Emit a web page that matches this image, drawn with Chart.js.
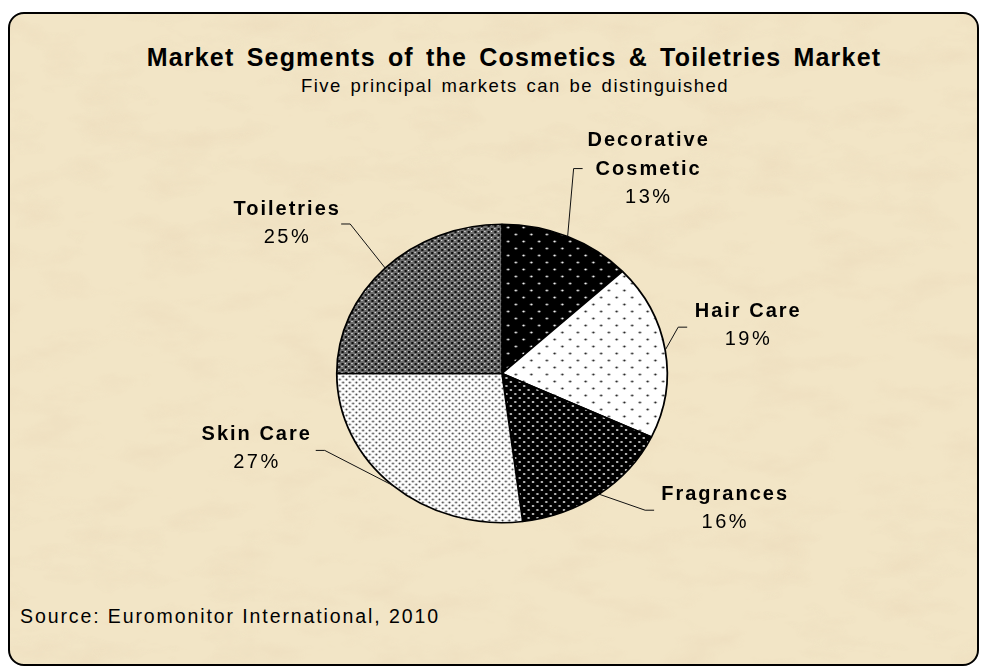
<!DOCTYPE html>
<html>
<head>
<meta charset="utf-8">
<script src="https://cdn.jsdelivr.net/npm/chart.js@4.4.1/dist/chart.umd.min.js"></script>
<style>
    html, body { margin: 0; padding: 0; background: #fff; }
    #wrap { position: absolute; left: 0; top: 0; width: 983px; height: 669px; overflow: hidden; }
    #frame {
        position: absolute; left: 8px; top: 12px; width: 971px; height: 654px;
        box-sizing: border-box; border: 2px solid #000; border-radius: 16px;
        background-color: #f2e5c6;
        overflow: hidden;
    }
    #paper { position: absolute; left: 0; top: 0; width: 100%; height: 100%; }
    #chart_box { position: absolute; left: 0; top: 0; width: 983px; height: 669px; }
    .txt { position: absolute; font-family: Arial, "Liberation Sans", sans-serif; color: #000; white-space: nowrap; line-height: 1; }
    #title { left: 514px; top: 44.5px; transform: translateX(-50%); font-size: 25px; font-weight: bold; letter-spacing: 1.2px; word-spacing: 4px; }
    #subtitle { left: 515px; top: 77px; transform: translateX(-50%); font-size: 18.5px; letter-spacing: 1.5px; word-spacing: 2px; }
    #source { left: 20px; top: 607px; font-size: 19.5px; letter-spacing: 1.9px; }
</style>
</head>
<body>
<div id="wrap">
    <div id="frame">
        <svg id="paper" xmlns="http://www.w3.org/2000/svg">
            <filter id="mottle" x="0" y="0" width="100%" height="100%">
                <feTurbulence type="fractalNoise" baseFrequency="0.015 0.035" numOctaves="4" seed="7"/>
                <feColorMatrix type="matrix" values="0 0 0 0 0.82  0 0 0 0 0.68  0 0 0 0 0.48  0 0 0 -1.6 0.85"/>
            </filter>
            <rect width="100%" height="100%" filter="url(#mottle)" opacity="0.6"/>
        </svg>
    </div>
    <div class="txt" id="title">Market Segments of the Cosmetics &amp; Toiletries Market</div>
    <div class="txt" id="subtitle">Five principal markets can be distinguished</div>
    <div class="txt" id="source">Source: Euromonitor International, 2010</div>
    <div id="chart_box"><canvas id="pie_chart"></canvas></div>
</div>
<script>
// data
const segments = [['Decorative', 'Cosmetic'], ['Hair Care'], ['Fragrances'], ['Skin Care'], ['Toiletries']];
const shares = [13, 19, 16, 27, 25];

// label placement (relative to the slice edge at its middle angle)
const labelOffsets = [[80, -96], [82, -39], [125, 0], [-137, -51], [-99, -59]];
const elbowOffsets = [[6, -68], [13, -23], [46, 16], [-68, -35], [-35, -44]];

const stretchX = 165 / 149;   // the pie is drawn as an ellipse
const font = 'Arial, "Liberation Sans", sans-serif';

function dotPattern(bg, fg, size, r) {
    const c = document.createElement('canvas');
    c.width = size; c.height = size;
    const g = c.getContext('2d');
    g.fillStyle = bg;
    g.fillRect(0, 0, size, size);
    g.fillStyle = fg;
    [[size / 4, size / 4], [size * 3 / 4, size * 3 / 4]].forEach(p => {
        g.beginPath();
        g.arc(p[0], p[1], r, 0, Math.PI * 2);
        g.fill();
    });
    return g.createPattern(c, 'repeat');
}

function crossPattern() {
    const c = document.createElement('canvas');
    c.width = 6; c.height = 6;
    const g = c.getContext('2d');
    g.fillStyle = '#6c6c6c';
    g.fillRect(0, 0, 6, 6);
    g.fillStyle = '#111';
    g.fillRect(0, 0, 2, 2);
    g.fillRect(3, 3, 2, 2);
    g.fillStyle = '#f4f4f4';
    g.fillRect(3, 0, 1, 1);
    g.fillRect(0, 3, 1, 1);
    return g.createPattern(c, 'repeat');
}

const fills = [
    dotPattern('#000', '#fff', 14, 1.1),
    dotPattern('#fff', '#222', 14, 1.1),
    dotPattern('#000', '#ddd', 8, 1.1),
    dotPattern('#fff', '#444', 6, 1.0),
    crossPattern(),
];

const ellipse = {
    id: 'ellipse',
    beforeDatasetsDraw(chart) {
        const arc = chart.getDatasetMeta(0).data[0];
        const ctx = chart.ctx;
        ctx.save();
        ctx.translate(arc.x, arc.y);
        ctx.scale(stretchX, 1);
        ctx.translate(-arc.x, -arc.y);
    },
    afterDatasetsDraw(chart) {
        chart.ctx.restore();
    }
};

const sliceLabels = {
    id: 'sliceLabels',
    afterDraw(chart) {
        const ctx = chart.ctx;
        const meta = chart.getDatasetMeta(0);
        meta.data.forEach((arc, i) => {
            const a = (arc.startAngle + arc.endAngle) / 2;
            const ex = arc.x + arc.outerRadius * stretchX * Math.cos(a);
            const ey = arc.y + arc.outerRadius * Math.sin(a);
            const bx = ex + elbowOffsets[i][0];
            const by = ey + elbowOffsets[i][1];
            const side = labelOffsets[i][0] > elbowOffsets[i][0] ? 1 : -1;

            ctx.save();
            ctx.strokeStyle = '#111';
            ctx.lineWidth = 1;
            ctx.beginPath();
            ctx.moveTo(ex, ey);
            ctx.lineTo(bx, by);
            ctx.lineTo(bx + 9 * side, by);
            ctx.stroke();

            const lx = ex + labelOffsets[i][0];
            let ly = ey + labelOffsets[i][1];
            ctx.fillStyle = '#000';
            ctx.textAlign = 'center';
            ctx.textBaseline = 'middle';
            ctx.font = 'bold 20px ' + font;
            ctx.letterSpacing = '2px';
            segments[i].forEach(line => {
                ctx.fillText(line, lx + 1, ly);
                ly += 28.5;
            });
            ctx.font = '20px ' + font;
            ctx.letterSpacing = '2.5px';
            ctx.fillText(shares[i] + '%', lx + 1.25, ly);
            ctx.restore();
        });
    }
};

new Chart(document.getElementById('pie_chart'), {
    type: 'pie',
    data: {
        labels: segments,
        datasets: [{
            data: shares,
            backgroundColor: fills,
            borderColor: '#000',
            borderWidth: 1.6,
        }]
    },
    options: {
        responsive: true,
        maintainAspectRatio: false,
        animation: false,
        events: [],
        layout: {
            padding: { top: 223.5, bottom: 145.5, left: 302, right: 281 }
        },
        plugins: {
            legend: { display: false },
            tooltip: { enabled: false }
        }
    },
    plugins: [ellipse, sliceLabels]
});
</script>
</body>
</html>
